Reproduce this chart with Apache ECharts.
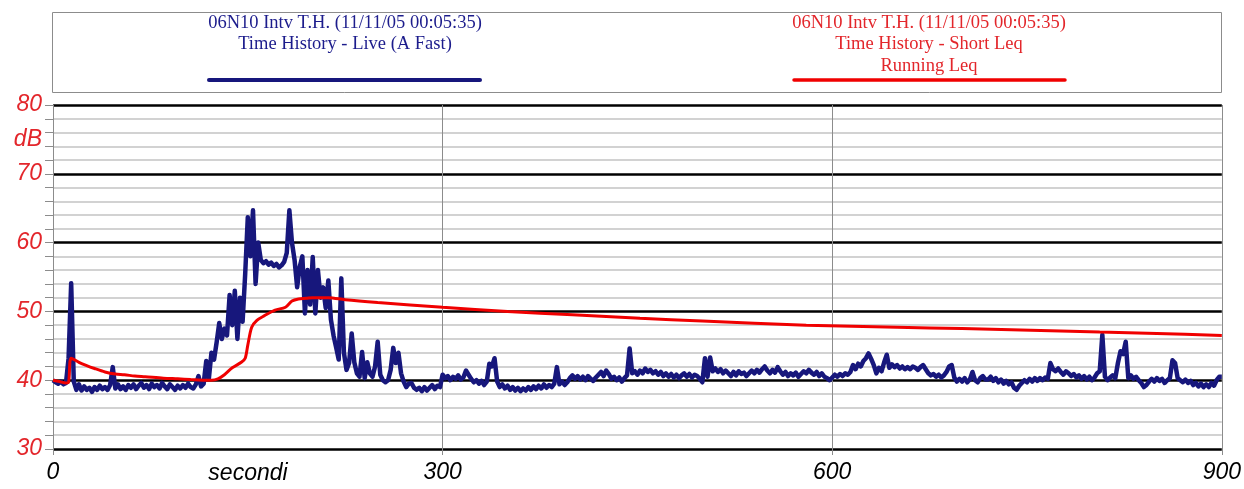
<!DOCTYPE html>
<html><head><meta charset="utf-8">
<script src="https://cdn.jsdelivr.net/npm/echarts@6/dist/echarts.min.js"></script>
<style>html,body{margin:0;padding:0;background:#fff}#c{width:1244px;height:489px}</style>
</head><body><div id="c"></div>
<script>
// ---- data ----
const STEP = 2; // seconds between Live (A Fast) samples, starting at 0 s
const liveAFast = [
  40.0, 39.7, 39.5, 39.8, 39.4, 39.6, 43.2, 54.1, 39.8, 38.6,
  39.4, 38.5, 39.1, 38.6, 38.9, 38.3, 39.0, 38.6, 39.2, 38.7,
  39.0, 38.6, 39.3, 41.9, 38.8, 39.4, 38.7, 39.1, 38.6, 39.3,
  38.9, 39.4, 38.7, 39.2, 39.6, 38.9, 39.3, 38.7, 39.5, 39.0,
  39.3, 38.8, 39.6, 39.1, 38.7, 39.4, 39.0, 38.6, 39.2, 38.8,
  39.3, 38.9, 39.5, 39.0, 38.8, 39.4, 40.6, 39.1, 39.5, 42.8,
  40.2, 44.0, 43.0, 45.5, 48.3, 46.0, 47.5, 46.5, 52.4, 48.0,
  53.0, 46.0, 52.0, 48.5, 55.5, 63.7, 58.0, 64.7, 54.0, 60.0,
  57.5, 57.0, 57.3, 56.8, 57.1, 56.6, 56.9, 56.4, 56.7, 57.2,
  58.5, 64.7, 60.0, 57.5, 53.5, 56.5, 58.0, 49.7, 56.0, 51.0,
  57.9, 49.7, 56.0, 52.0, 53.5, 50.5, 54.5, 48.8, 46.5, 44.8,
  43.0, 54.8, 44.0, 41.5, 42.5, 46.8, 42.6, 41.0, 40.5, 44.1,
  40.3, 42.6, 41.0, 40.5, 42.0, 45.6, 40.8, 40.0, 39.7, 40.0,
  41.5, 44.7, 42.5, 44.0, 41.0, 39.8, 39.0, 39.5, 39.6, 38.9,
  38.6, 38.9, 38.4, 39.0, 38.5, 38.9, 39.3, 38.7, 39.2, 39.0,
  40.8, 40.3, 40.6, 40.0, 40.5, 40.2, 40.7, 40.1, 40.4, 41.4,
  40.8, 40.2, 39.7, 40.0, 39.5, 39.9, 39.3, 39.8, 42.4, 42.0,
  43.2, 39.8, 39.0, 39.4, 38.8, 39.2, 38.6, 39.0, 38.5, 38.9,
  38.4, 38.8, 38.5, 39.0, 38.6, 39.1, 38.7, 39.2, 38.8, 39.4,
  38.9, 39.3, 39.0, 39.5, 41.9, 39.4, 39.8, 39.3, 39.7, 40.3,
  40.7, 40.2, 40.6, 40.1, 40.5, 40.0, 40.6, 40.2, 39.9, 40.4,
  40.8, 41.2, 40.6, 41.4, 40.9, 40.2, 40.5, 40.0, 40.4, 39.8,
  40.3, 40.7, 44.6, 41.0, 41.3, 40.8, 41.4, 41.0, 41.7, 41.2,
  41.5, 41.0, 41.3, 40.8, 41.2, 40.6, 41.0, 40.5, 40.9, 40.4,
  40.8, 40.3, 40.7, 41.0, 40.5, 40.9, 40.4, 40.8, 40.6, 40.2,
  39.7, 43.2, 40.5, 43.3, 41.3, 41.7, 41.2, 41.6, 41.0, 41.4,
  41.0, 40.6, 41.2, 40.7, 41.3, 40.9, 41.1, 40.6, 41.0, 41.4,
  41.0, 41.5, 41.1, 41.6, 42.0, 41.4, 41.0, 41.5, 41.1, 41.9,
  41.3, 40.8, 41.2, 40.6, 41.0, 40.7, 41.1, 40.5, 40.9, 41.3,
  41.0, 41.5, 41.1, 40.8, 41.2, 40.6, 41.0, 40.5, 40.3, 40.0,
  40.4, 40.8, 40.5, 40.9, 40.6, 41.0, 40.8, 41.2, 42.2, 41.6,
  42.4, 42.0, 42.8, 43.2, 43.9, 43.1, 42.2, 41.0, 41.8, 41.3,
  42.6, 43.7, 41.8, 42.3, 41.9, 42.2, 41.7, 42.0, 41.6, 41.9,
  41.6, 42.0, 41.8, 41.5, 41.9, 42.2, 41.6, 41.0, 40.7, 40.9,
  40.5, 40.8, 40.4, 40.7, 41.2, 42.0, 42.2, 40.4, 39.8, 40.2,
  39.8, 40.3, 39.7, 40.1, 41.2, 40.0, 39.7, 40.3, 40.6, 40.1,
  40.1, 40.5, 39.9, 40.3, 39.7, 40.1, 39.5, 39.9, 39.4, 39.7,
  38.9, 38.6, 39.2, 39.6, 40.0, 39.7, 40.2, 39.8, 40.3, 39.9,
  40.3, 40.0, 40.4, 40.2, 42.5, 41.6, 41.3, 41.7, 41.2, 40.8,
  41.3, 41.0, 40.6, 40.9, 40.4, 40.7, 40.2, 40.6, 40.1, 40.5,
  40.0, 40.4, 41.0, 41.3, 46.6, 40.5, 40.0, 40.4, 40.7, 40.3,
  42.5, 44.2, 43.8, 45.6, 40.3, 40.7, 40.2, 40.5, 40.0, 39.6,
  39.0, 39.3, 39.8, 40.2, 39.8, 40.3, 39.9, 40.2, 39.6, 40.0,
  40.3, 42.9, 42.5, 40.3, 40.0, 39.7, 40.1, 39.6, 39.9, 39.3,
  39.6, 39.1, 39.5, 39.0, 39.4, 39.0, 39.6, 39.2, 40.0, 40.5,
  40.5
];
const runTimes = [0, 5, 10, 12, 14, 20, 25, 32, 40, 48, 55, 63, 71, 85, 96, 106, 117, 122, 127, 132,
  138, 145, 148, 150, 153, 157, 163, 171, 179, 184, 189, 195, 200, 212, 225, 250, 300, 350, 400, 452,
  500, 580, 650, 700, 806, 850, 900];
const runLeq = [40.0, 39.8, 39.6, 39.7, 43.2, 42.6, 42.2, 41.7, 41.2, 40.9, 40.8, 40.6, 40.5, 40.3, 40.2, 40.1, 40.0, 40.0, 40.2, 40.8,
  41.8, 42.6, 43.2, 45.1, 47.7, 48.7, 49.4, 50.2, 50.6, 51.5, 51.8, 51.9, 52.0, 52.0, 51.7, 51.3, 50.6, 50.0, 49.5, 49.0,
  48.6, 48.0, 47.7, 47.5, 47.0, 46.8, 46.5];
const legendBlue = ['06N10 Intv T.H. (11/11/05 00:05:35)', 'Time History - Live (A Fast)'];
const legendRed = ['06N10 Intv T.H. (11/11/05 00:05:35)', 'Time History - Short Leq', 'Running Leq'];
const yUnit = 'dB';
const xName = 'secondi';

// ---- styles ----
const BLUE = '#17177c', RED = '#f00000';
const BLUE_TXT = '#1c1c8c', RED_TXT = '#e3262b';
const SANS = '"Liberation Sans", Arial, sans-serif';
const SERIF = '"Liberation Serif", "Times New Roman", serif';

const blueData = liveAFast.map((v, i) => [i * STEP, v]);
const redData = runTimes.map((t, i) => [t, runLeq[i]]);

const chart = echarts.init(document.getElementById('c'), null, {renderer: 'canvas'});
chart.setOption({
  animation: false,
  backgroundColor: '#fff',
  grid: {left: 53, right: 22, top: 105, bottom: 40, containLabel: false},
  xAxis: {
    type: 'value', min: 0, max: 900, interval: 300,
    axisLine: {show: false},
    axisTick: {show: true, length: 6, lineStyle: {color: '#8c8c8c'}},
    axisLabel: {color: '#000', fontStyle: 'italic', fontFamily: SANS, fontSize: 23, margin: 12},
    splitLine: {show: true, lineStyle: {color: '#8c8c8c', width: 1}}
  },
  yAxis: {
    type: 'value', min: 30, max: 80, interval: 10,
    axisLine: {show: true, lineStyle: {color: '#8c8c8c', width: 1}},
    axisTick: {show: true, length: 8, lineStyle: {color: '#8c8c8c'}},
    minorTick: {show: true, splitNumber: 5, length: 8, lineStyle: {color: '#8c8c8c'}},
    axisLabel: {color: RED_TXT, fontStyle: 'italic', fontFamily: SANS, fontSize: 23, margin: 11},
    splitLine: {show: true, lineStyle: {color: '#000', width: 2.5}},
    minorSplitLine: {show: true, lineStyle: {color: '#c4c4c4', width: 1.5}}
  },
  series: [
    {type: 'line', name: legendBlue[1], data: blueData, showSymbol: false, symbol: 'none',
      lineStyle: {color: BLUE, width: 4.5, join: 'round'}, itemStyle: {color: BLUE}, z: 2},
    {type: 'line', name: legendRed[2], data: redData, showSymbol: false, symbol: 'none', smooth: 0.3,
      lineStyle: {color: RED, width: 3}, itemStyle: {color: RED}, z: 3}
  ],
  graphic: [
    {type: 'rect', z: 10, shape: {x: 52.5, y: 12.5, width: 1169, height: 80},
      style: {fill: '#fff', stroke: '#8c8c8c', lineWidth: 1}},
    {type: 'text', z: 11, x: 345, y: 12,
      style: {text: legendBlue.join('\n'), fill: BLUE_TXT, font: '18.5px ' + SERIF, align: 'center', verticalAlign: 'top', lineHeight: 21.5}},
    {type: 'line', z: 11, shape: {x1: 209, y1: 80, x2: 480, y2: 80},
      style: {stroke: BLUE, lineWidth: 4, lineCap: 'round'}},
    {type: 'text', z: 11, x: 929, y: 12,
      style: {text: legendRed.join('\n'), fill: RED_TXT, font: '18.5px ' + SERIF, align: 'center', verticalAlign: 'top', lineHeight: 21.5}},
    {type: 'line', z: 11, shape: {x1: 794, y1: 80, x2: 1065, y2: 80},
      style: {stroke: RED, lineWidth: 3.5, lineCap: 'round'}},
    {type: 'text', z: 11, x: 42, y: 140,
      style: {text: yUnit, fill: RED_TXT, font: 'italic 23px ' + SANS, align: 'right', verticalAlign: 'middle'}},
    {type: 'text', z: 11, x: 248, y: 474,
      style: {text: xName, fill: '#000', font: 'italic 23px ' + SANS, align: 'center', verticalAlign: 'middle'}}
  ]
});
</script>
</body></html>
